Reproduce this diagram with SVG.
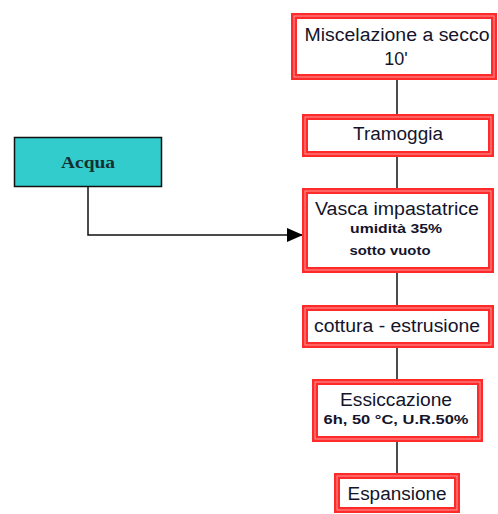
<svg xmlns="http://www.w3.org/2000/svg" width="498" height="514" viewBox="0 0 498 514">
<defs>
<style>
.box{fill:#fff;stroke:#ff2a2a;stroke-width:6}
.inner{fill:none;stroke:#ff9a9a;stroke-width:1}
.t{font-family:"Liberation Sans",Arial,sans-serif;fill:#14142a;text-anchor:middle}
.big{font-size:18px}
.small{font-size:13.5px;font-weight:bold}
.conn{fill:none;stroke:#111;stroke-width:1.5}
</style>
<marker id="arr" viewBox="0 0 16 14" refX="16" refY="7" markerWidth="16" markerHeight="14" markerUnits="userSpaceOnUse" orient="auto">
<path d="M0,0 L16,7 L0,14 Z" fill="#000"/>
</marker>
</defs>
<rect width="498" height="514" fill="#fff"/>
<g id="connectors">
<line class="conn" x1="397" y1="80" x2="397" y2="114"/>
<line class="conn" x1="397" y1="157" x2="397" y2="188"/>
<line class="conn" x1="397" y1="273" x2="397" y2="305"/>
<line class="conn" x1="397" y1="348" x2="397" y2="379"/>
<line class="conn" x1="397" y1="442" x2="397" y2="473"/>
<path class="conn" d="M88,187 L88,235 L303,235" marker-end="url(#arr)"/>
</g>
<g id="miscelazione">
<rect class="box" x="294" y="16" width="200" height="61"/>
<rect class="inner" x="294" y="16" width="200" height="61"/>
<text class="t big" x="397" y="41" textLength="185" lengthAdjust="spacingAndGlyphs">Miscelazione a secco</text>
<text class="t big" x="396" y="65">10'</text>
</g>
<g id="tramoggia">
<rect class="box" x="305" y="117" width="186" height="37"/>
<rect class="inner" x="305" y="117" width="186" height="37"/>
<text class="t big" x="398" y="140" textLength="90" lengthAdjust="spacingAndGlyphs">Tramoggia</text>
</g>
<g id="acqua">
<rect x="14.5" y="137.5" width="147" height="49" fill="#33cccc" stroke="#111" stroke-width="1.5"/>
<text x="88" y="168" font-family="'Liberation Serif','Times New Roman',serif" font-size="17" font-weight="bold" fill="#143030" text-anchor="middle" textLength="54" lengthAdjust="spacingAndGlyphs">Acqua</text>
</g>
<g id="vasca">
<rect class="box" x="305" y="191" width="186" height="79"/>
<rect class="inner" x="305" y="191" width="186" height="79"/>
<text class="t big" x="397" y="215" textLength="164" lengthAdjust="spacingAndGlyphs">Vasca impastatrice</text>
<text class="t small" x="396" y="233" textLength="92" lengthAdjust="spacingAndGlyphs">umidità 35%</text>
<text class="t small" x="390" y="255" textLength="81" lengthAdjust="spacingAndGlyphs">sotto vuoto</text>
</g>
<g id="cottura">
<rect class="box" x="305" y="308" width="186" height="37"/>
<rect class="inner" x="305" y="308" width="186" height="37"/>
<text class="t big" x="397" y="332" textLength="166" lengthAdjust="spacingAndGlyphs">cottura - estrusione</text>
</g>
<g id="essiccazione">
<rect class="box" x="315" y="382" width="165" height="57"/>
<rect class="inner" x="315" y="382" width="165" height="57"/>
<text class="t big" x="396" y="406" textLength="112" lengthAdjust="spacingAndGlyphs">Essiccazione</text>
<text class="t small" x="396" y="424" textLength="145" lengthAdjust="spacingAndGlyphs">6h, 50 °C, U.R.50%</text>
</g>
<g id="espansione">
<rect class="box" x="337" y="476" width="120" height="34"/>
<rect class="inner" x="337" y="476" width="120" height="34"/>
<text class="t big" x="397" y="500" textLength="99" lengthAdjust="spacingAndGlyphs">Espansione</text>
</g>
</svg>
